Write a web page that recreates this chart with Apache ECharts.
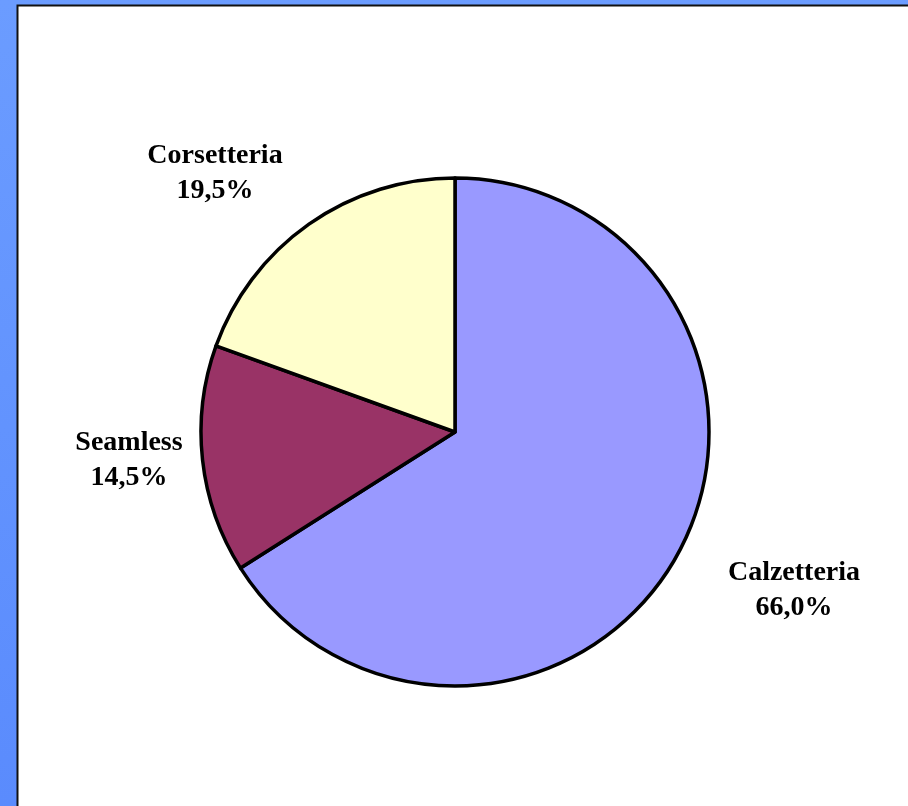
<!DOCTYPE html>
<html>
<head>
<meta charset="utf-8">
<script src="https://cdn.jsdelivr.net/npm/echarts@6/dist/echarts.min.js"></script>
<style>html,body{margin:0;padding:0;background:#fff}#c{width:908px;height:806px}</style>
</head>
<body>
<div id="c"></div>
<script>
var categories = ['Calzetteria', 'Seamless', 'Corsetteria'];
var values = [66.0, 14.5, 19.5];
var colors = ['#9999ff', '#993366', '#ffffcc'];
var labelPos = [[794, 590], [129, 460], [215, 173]];

var chart = echarts.init(document.getElementById('c'), null, {renderer: 'canvas'});
chart.setOption({
  animation: false,
  backgroundColor: {
    type: 'linear', x: 0, y: 0, x2: 0, y2: 1,
    colorStops: [{offset: 0, color: '#6b9cff'}, {offset: 1, color: '#5a8bfd'}]
  },
  graphic: [{
    type: 'rect', z: -1,
    shape: {x: 17.5, y: 5.5, width: 900, height: 820},
    style: {fill: '#ffffff', stroke: '#111111', lineWidth: 2}
  }],
  series: [{
    type: 'pie',
    center: [455, 432],
    radius: [0, 254],
    startAngle: 90,
    clockwise: true,
    data: categories.map(function (c, i) {
      return {name: c, value: values[i], itemStyle: {color: colors[i]}};
    }),
    itemStyle: {borderColor: '#000', borderWidth: 3.5},
    emphasis: {disabled: true},
    labelLine: {show: false},
    label: {
      show: true,
      position: 'outside',
      fontFamily: '"Liberation Serif", "Times New Roman", serif',
      fontWeight: 'bold',
      fontSize: 28,
      lineHeight: 35,
      color: '#000',
      align: 'center',
      formatter: function (p) {
        return p.name + '\n' + p.value.toFixed(1).replace('.', ',') + '%';
      }
    },
    labelLayout: function (p) {
      var pos = labelPos[p.dataIndex];
      return {x: pos[0], y: pos[1], align: 'center', verticalAlign: 'middle'};
    }
  }]
});
</script>
</body>
</html>
